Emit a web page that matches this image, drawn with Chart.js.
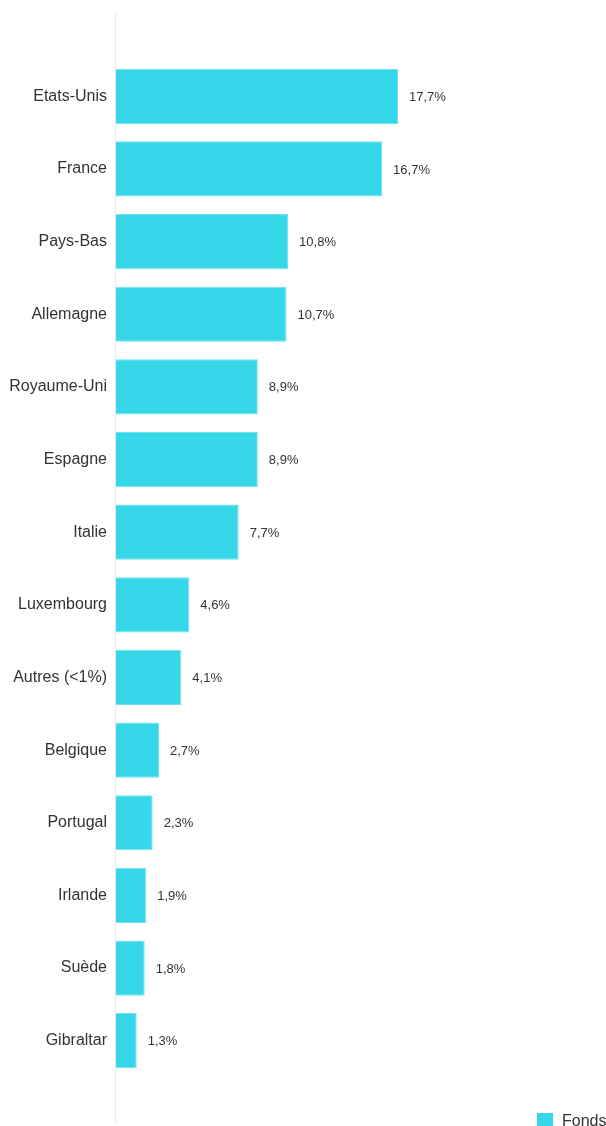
<!DOCTYPE html>
<html lang="fr">
<head>
<meta charset="utf-8">
<title>Répartition géographique</title>
<script src="https://cdn.jsdelivr.net/npm/chart.js@4/dist/chart.umd.min.js"></script>
<style>
	html, body { margin: 0; padding: 0; background: #fff; }
	#wrap { position: relative; width: 606px; height: 1126px; }
</style>
</head>
<body>
<div id="wrap"><canvas id="geo-chart"></canvas></div>
<script>
// Répartition par pays (%)
const countries = ["Etats-Unis", "France", "Pays-Bas", "Allemagne", "Royaume-Uni", "Espagne", "Italie",
	"Luxembourg", "Autres (<1%)", "Belgique", "Portugal", "Irlande", "Suède", "Gibraltar"];
const fundWeights = [17.7, 16.7, 10.8, 10.7, 8.9, 8.9, 7.7, 4.6, 4.1, 2.7, 2.3, 1.9, 1.8, 1.3];
const seriesName = "Fonds";

const theme = {
	bar: "#37d7ea",
	barEdge: "#6fe3f0",
	axis: "#e8e8e8",
	text: "#333333",
	font: "'Liberation Sans', Arial, Helvetica, sans-serif"
};

function formatPct(value) {
	return value.toFixed(1).replace(".", ",") + "%";
}

// vertical axis line, runs past the plot area top and bottom
const axisLine = {
	id: "axisLine",
	beforeDatasetsDraw(chart) {
		const { ctx, chartArea } = chart;
		ctx.save();
		ctx.strokeStyle = theme.axis;
		ctx.lineWidth = 1;
		ctx.beginPath();
		ctx.moveTo(chartArea.left - 0.5, chartArea.top - 47);
		ctx.lineTo(chartArea.left - 0.5, chartArea.bottom + 47);
		ctx.stroke();
		ctx.restore();
	}
};

// value labels at the end of each bar
const valueLabels = {
	id: "valueLabels",
	afterDatasetsDraw(chart) {
		const { ctx } = chart;
		const meta = chart.getDatasetMeta(0);
		const data = chart.data.datasets[0].data;
		ctx.save();
		ctx.fillStyle = theme.text;
		ctx.font = `13px ${theme.font}`;
		ctx.textAlign = "left";
		ctx.textBaseline = "middle";
		meta.data.forEach((bar, i) => {
			ctx.fillText(formatPct(data[i]), bar.x + 11, bar.y + 1);
		});
		ctx.restore();
	}
};

// legend in the bottom right corner
const cornerLegend = {
	id: "cornerLegend",
	afterDraw(chart) {
		const { ctx, width, height } = chart;
		const ds = chart.data.datasets[0];
		ctx.save();
		ctx.fillStyle = ds.backgroundColor;
		ctx.fillRect(width - 69, height - 13, 16, 15);
		ctx.fillStyle = theme.text;
		ctx.font = `16px ${theme.font}`;
		ctx.textAlign = "left";
		ctx.textBaseline = "alphabetic";
		ctx.fillText(ds.label, width - 44, height);
		ctx.restore();
	}
};

new Chart(document.getElementById("geo-chart"), {
	type: "bar",
	data: {
		labels: countries,
		datasets: [
			{
				label: seriesName,
				data: fundWeights,
				backgroundColor: theme.bar,
				borderColor: theme.barEdge,
				borderWidth: 1,
				borderSkipped: "left",
				categoryPercentage: 1,
				barPercentage: 0.76
			}
		]
	},
	options: {
		indexAxis: "y",
		responsive: true,
		maintainAspectRatio: false,
		animation: false,
		layout: { padding: { top: 60, bottom: 49, right: 12, left: 0 } },
		plugins: {
			legend: { display: false },
			tooltip: { enabled: false }
		},
		scales: {
			x: {
				display: false,
				min: 0,
				max: 30
			},
			y: {
				grid: { display: false, drawTicks: false },
				border: { display: false },
				ticks: {
					color: theme.text,
					padding: 9,
					font: { family: theme.font, size: 16 }
				},
				afterFit(scale) {
					scale.width = 116;
				}
			}
		}
	},
	plugins: [axisLine, valueLabels, cornerLegend]
});
</script>
</body>
</html>
